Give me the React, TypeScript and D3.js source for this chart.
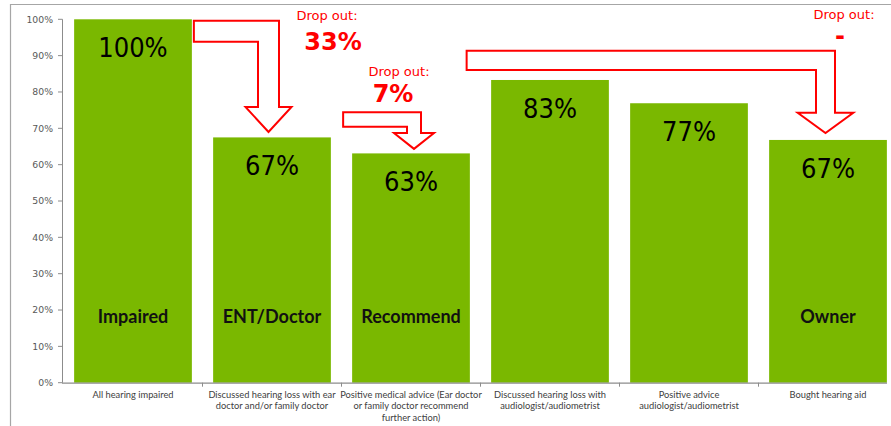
import React, { useEffect } from "react";
import * as d3 from "d3";

const categories: string[][] = [
  ["All hearing impaired"],
  ["Discussed hearing loss with ear", "doctor and/or family doctor"],
  ["Positive medical advice (Ear doctor", "or family doctor recommend", "further action)"],
  ["Discussed hearing loss with", "audiologist/audiometrist"],
  ["Positive advice", "audiologist/audiometrist"],
  ["Bought hearing aid"],
];
const values: number[] = [1.0, 0.675, 0.631, 0.833, 0.769, 0.668];
const valueLabels: string[] = ["100%", "67%", "63%", "83%", "77%", "67%"];
const stageNames: string[] = ["Impaired", "ENT/Doctor", "Recommend", "", "", "Owner"];
const yTicks: number[] = [0, 0.1, 0.2, 0.3, 0.4, 0.5, 0.6, 0.7, 0.8, 0.9, 1.0];
const dropouts: { from: number; to: number; label: string }[] = [
  { from: 0, to: 1, label: "33%" },
  { from: 2, to: 2, label: "7%" },
  { from: 3, to: 5, label: "-" },
];

const W = 891;
const H = 426;
const GREEN = "#7ab800";
const RED = "#ff0000";
const AXIS = "#8c8c8c";

export default function App() {
  useEffect(() => {
    document.body.style.margin = "0";
  }, []);

  const x = d3
    .scaleBand<number>()
    .domain(d3.range(values.length))
    .range([63.5, 897.5])
    .paddingInner(0.153)
    .paddingOuter(0.0765);
  const y = d3.scaleLinear().domain([0, 1]).range([382.7, 19.3]);
  const bw = x.bandwidth();
  const step = x.step();
  const pct = d3.format(".0%");

  const arrowPath = (
    x0: number,
    yTop: number,
    hw: number,
    vw: number,
    xc: number,
    headY: number,
    headW: number,
    tipY: number
  ) => {
    const p = d3.path();
    p.moveTo(x0, yTop);
    p.lineTo(xc + vw / 2, yTop);
    p.lineTo(xc + vw / 2, headY);
    p.lineTo(xc + headW / 2, headY);
    p.lineTo(xc, tipY);
    p.lineTo(xc - headW / 2, headY);
    p.lineTo(xc - vw / 2, headY);
    p.lineTo(xc - vw / 2, yTop + hw);
    p.lineTo(x0, yTop + hw);
    p.closePath();
    return p.toString();
  };

  const cx = (i: number) => (x(i) as number) + bw / 2;

  const arrows = [
    {
      d: arrowPath(
        (x(dropouts[0].from) as number) + bw + 2,
        y(values[0]) + 1.5,
        21,
        21,
        cx(dropouts[0].to) - 3.5,
        107,
        46,
        y(values[1]) - 5.5
      ),
      dropX: 327,
      dropY: 20,
      numX: 333,
      numY: 50,
    },
    {
      d: arrowPath(
        (x(dropouts[1].from) as number) - 9,
        112.3,
        14.4,
        14,
        cx(dropouts[1].to) + 3,
        133,
        40,
        y(values[2]) - 4.5
      ),
      dropX: 399,
      dropY: 76,
      numX: 393,
      numY: 102,
    },
    {
      d: arrowPath(
        (x(dropouts[2].from) as number) - 24.5,
        50.7,
        19.3,
        19,
        cx(dropouts[2].to) - 2.5,
        112.7,
        55.6,
        y(values[5]) - 7
      ),
      dropX: 844,
      dropY: 18.5,
      numX: 840,
      numY: 44,
    },
  ];

  return (
    <svg
      width={W}
      height={H}
      style={{ display: "block", position: "absolute", left: 0, top: 0, background: "#fff" }}
    >
      <path d={`M10.5,${H} V4.5 H${W}`} fill="none" stroke="#a6a6a6" strokeWidth={1.2} />

      {values.map((v, i) => (
        <rect key={i} x={x(i)} y={y(v)} width={bw} height={y(0) - y(v)} fill={GREEN} />
      ))}

      <line x1={62.5} x2={62.5} y1={y(1)} y2={y(0)} stroke={AXIS} strokeWidth={1} />
      {yTicks.map((t) => (
        <g key={t}>
          <line x1={58} x2={62.5} y1={y(t)} y2={y(t)} stroke={AXIS} />
          <text
            x={53}
            y={y(t) + 3.3}
            textAnchor="end"
            fontFamily="DejaVu Sans, Verdana, sans-serif"
            fontSize={9.3}
            fill="#595959"
          >
            {pct(t)}
          </text>
        </g>
      ))}

      <line x1={62} x2={887} y1={y(0) + 0.5} y2={y(0) + 0.5} stroke={AXIS} strokeWidth={1.2} />
      {d3.range(1, values.length).map((i) => {
        const xt = (x(i) as number) - (step - bw) / 2;
        return <line key={i} x1={xt} x2={xt} y1={y(0)} y2={y(0) + 4} stroke={AXIS} />;
      })}
      {categories.map((lines, i) => (
        <text
          key={i}
          x={cx(i)}
          textAnchor="middle"
          fontFamily="Lato, Carlito, 'Open Sans', sans-serif"
          fontSize={9.3}
          fill="#404040"
        >
          {lines.map((l, j) => (
            <tspan key={j} x={cx(i)} y={397.5 + j * 11.6}>
              {l}
            </tspan>
          ))}
        </text>
      ))}

      {values.map((v, i) => (
        <text
          key={i}
          x={cx(i)}
          y={y(v) + 38}
          textAnchor="middle"
          fontFamily="'DejaVu Sans Condensed', 'DejaVu Sans', sans-serif"
          fontStretch="condensed"
          fontSize={27}
          fill="#000"
        >
          {valueLabels[i]}
        </text>
      ))}

      {stageNames.map((s, i) =>
        s ? (
          <text
            key={i}
            x={cx(i)}
            y={322.5}
            textAnchor="middle"
            fontFamily="Lato, Carlito, 'Open Sans', sans-serif"
            fontWeight="bold"
            fontSize={18}
            fill="#111"
          >
            {s}
          </text>
        ) : null
      )}

      {arrows.map((a, i) => (
        <g key={i}>
          <path d={a.d} fill="#fff" stroke={RED} strokeWidth={2} strokeLinejoin="miter" />
          <text
            x={a.dropX}
            y={a.dropY}
            textAnchor="middle"
            fontFamily="DejaVu Sans, Verdana, sans-serif"
            fontSize={13}
            fill={RED}
          >
            Drop out:
          </text>
          <text
            x={a.numX}
            y={a.numY}
            textAnchor="middle"
            fontFamily="DejaVu Sans, Verdana, sans-serif"
            fontWeight="bold"
            fontSize={24}
            fill={RED}
          >
            {dropouts[i].label}
          </text>
        </g>
      ))}
    </svg>
  );
}
